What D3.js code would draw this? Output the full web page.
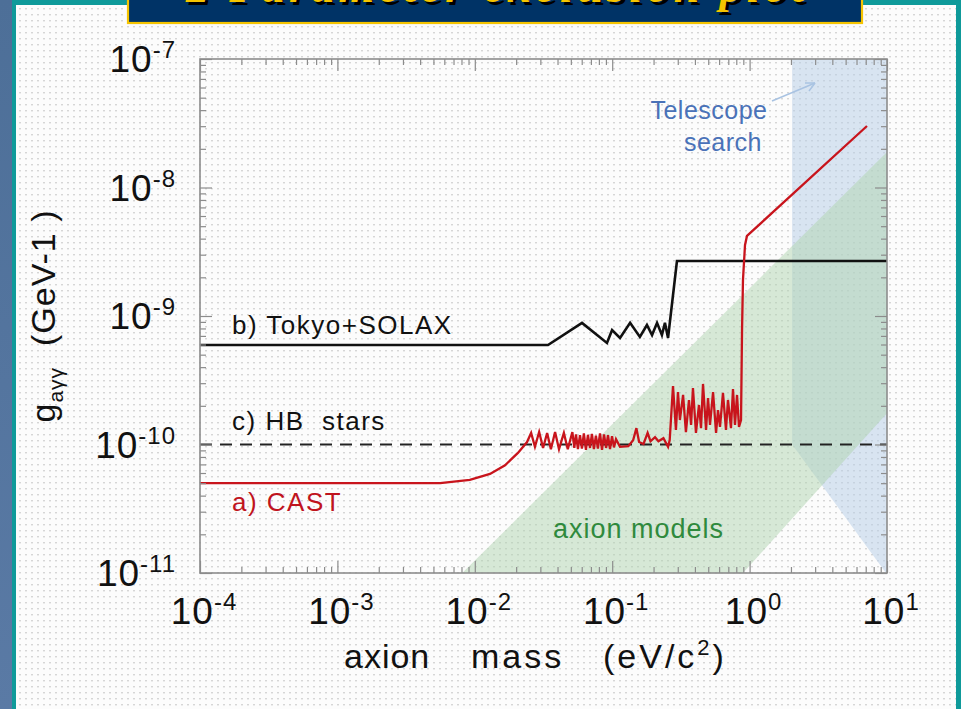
<!DOCTYPE html>
<html><head><meta charset="utf-8">
<script src="https://cdn.jsdelivr.net/npm/d3@7"></script>
<style>body{margin:0;overflow:hidden;background:#fff} svg{display:block} text{font-family:"Liberation Sans",Arial,sans-serif}</style>
</head><body><svg id="c" width="961" height="709"></svg>
<script>
// ---------------- data ----------------
const xTickExps = [-4, -3, -2, -1, 0, 1];
const yTickExps = [-11, -10, -9, -8, -7];

const tokyoMass = [1e-4, 0.0341, 0.0603, 0.0916, 0.0998, 0.114, 0.135, 0.159, 0.179, 0.195, 0.212, 0.230, 0.242, 0.255, 0.296, 10];
const tokyoG    = [5.94e-10, 5.94e-10, 8.84e-10, 6.17e-10, 7.78e-10, 6.75e-10, 8.84e-10, 6.87e-10, 8.51e-10, 7.11e-10, 8.84e-10, 7.11e-10, 8.84e-10, 6.75e-10, 2.68e-9, 2.68e-9];

const hbMass = [1e-4, 10];
const hbG    = [1e-10, 1e-10];

const castMass = [1e-4, 0.0056, 0.0092, 0.0129, 0.0166, 0.0206, 0.024,
  0.0257, 0.0274, 0.0294, 0.0314, 0.0336, 0.0358, 0.0384, 0.041, 0.0445, 0.0475, 0.0513, 0.053,
  0.0545, 0.0563, 0.0583, 0.0602, 0.0622, 0.0644, 0.0666, 0.0689, 0.0712, 0.0736, 0.0761, 0.0787,
  0.0815, 0.0843, 0.0872, 0.0902, 0.0932, 0.0964, 0.0997, 0.103, 0.1066,
  0.114, 0.131, 0.142, 0.150, 0.157, 0.169, 0.181, 0.190, 0.205, 0.217, 0.236, 0.255, 0.262,
  0.277, 0.291, 0.301, 0.311, 0.328, 0.344, 0.362, 0.375, 0.387, 0.407, 0.428, 0.443, 0.458, 0.482,
  0.498, 0.515, 0.542, 0.570, 0.589, 0.609, 0.640, 0.673, 0.696, 0.732, 0.757, 0.783, 0.810, 0.837,
  0.866, 0.881, 0.895, 0.926, 0.957, 7.15];
const castG = [5.0e-11, 5.0e-11, 5.3e-11, 5.9e-11, 6.9e-11, 8.6e-11, 1.045e-10,
  1.23e-10, 9.6e-11, 1.25e-10, 9.4e-11, 1.23e-10, 9.2e-11, 1.25e-10, 9.2e-11, 1.23e-10, 9.2e-11, 1.25e-10, 9.4e-11,
  1.2e-10, 9.2e-11, 1.18e-10, 9.3e-11, 1.22e-10, 9.1e-11, 1.19e-10, 9.4e-11, 1.21e-10, 9.2e-11, 1.17e-10, 9.3e-11,
  1.22e-10, 9.1e-11, 1.2e-10, 9.4e-11, 1.18e-10, 9.2e-11, 1.16e-10, 9.5e-11, 1.1e-10,
  9.6e-11, 9.7e-11, 1.08e-10, 1.34e-10, 1.045e-10, 1.01e-10, 1.23e-10, 1.06e-10, 1.14e-10, 1.06e-10, 1.12e-10, 9.6e-11, 1.08e-10,
  2.85e-10, 1.30e-10, 2.56e-10, 1.55e-10, 2.43e-10, 1.25e-10, 2.22e-10, 1.42e-10, 2.75e-10, 1.23e-10, 2.03e-10, 1.34e-10, 2.96e-10, 1.30e-10,
  2.30e-10, 1.42e-10, 2.56e-10, 1.23e-10, 1.85e-10, 1.37e-10, 2.52e-10, 1.30e-10, 2.22e-10, 1.34e-10, 2.70e-10, 1.42e-10, 2.43e-10, 1.37e-10,
  1.55e-10, 7.78e-10, 1.91e-9, 3.57e-9, 4.2e-9, 3.01e-8];

const axionMass = [0.0081, 10, 10, 0.895];
const axionG    = [1e-11, 1.89e-8, 1.75e-10, 1e-11];

const telMass = [2.04, 10, 10, 9.83, 2.04];
const telG    = [1e-7, 1e-7, 1e-11, 1e-11, 1.0e-10];

const titleText = "2 Parameter exclusion plot";

// ---------------- drawing ----------------
const svg = d3.select("#c");
const defs = svg.append("defs");
const pat = defs.append("pattern").attr("id","dots").attr("width",6).attr("height",6).attr("patternUnits","userSpaceOnUse");
pat.append("rect").attr("width",6).attr("height",6).attr("fill","#fcfcfc");
pat.append("rect").attr("x",1).attr("y",2).attr("width",2).attr("height",1.4).attr("fill","#d6d6d6");
const grad = defs.append("linearGradient").attr("id","lb").attr("x1",0).attr("x2",0).attr("y1",0).attr("y2",1);
grad.append("stop").attr("offset",0).attr("stop-color","#4d6f98");
grad.append("stop").attr("offset",1).attr("stop-color","#5a7aa5");

svg.append("rect").attr("width",961).attr("height",709).attr("fill","url(#dots)");
svg.append("rect").attr("x",0).attr("y",0).attr("width",12).attr("height",709).attr("fill","url(#lb)");
svg.append("rect").attr("x",12).attr("y",0).attr("width",4).attr("height",709).attr("fill","#0f9a9a");
svg.append("rect").attr("x",956).attr("y",0).attr("width",5).attr("height",709).attr("fill","#0f9a9a");
svg.append("rect").attr("x",12).attr("y",0).attr("width",949).attr("height",5).attr("fill","#0f9a9a");

// title box (cut off at top of the slide)
defs.append("clipPath").attr("id","tclip").append("rect").attr("x",128).attr("y",0).attr("width",734).attr("height",23);
svg.append("rect").attr("x",128).attr("y",-4).attr("width",734).attr("height",27)
  .attr("fill","#003366").attr("stroke","#f5c400").attr("stroke-width",2.2);
const tg = svg.append("g").attr("clip-path","url(#tclip)");
tg.append("text").attr("x",189).attr("y",5).attr("textLength",618).attr("lengthAdjust","spacing")
  .style("font-family","Liberation Serif, serif").style("font-style","italic").style("font-weight","bold")
  .style("font-size","46px").attr("fill","#000").text(titleText);
tg.append("text").attr("x",186).attr("y",2).attr("textLength",618).attr("lengthAdjust","spacing")
  .style("font-family","Liberation Serif, serif").style("font-style","italic").style("font-weight","bold")
  .style("font-size","46px").attr("fill","#f5c400").text(titleText);

const X0=200, X1=887, Y0=573, Y1=59;
const x = d3.scaleLog().domain([1e-4,10]).range([X0,X1]);
const y = d3.scaleLog().domain([1e-11,1e-7]).range([Y0,Y1]);

defs.append("clipPath").attr("id","pclip").append("rect").attr("x",X0).attr("y",Y1).attr("width",X1-X0).attr("height",Y0-Y1);
const plot = svg.append("g").attr("clip-path","url(#pclip)");
const line = d3.line().x(d=>x(d[0])).y(d=>y(d[1]));
const poly = d3.line().x(d=>x(d[0])).y(d=>y(d[1])).curve(d3.curveLinearClosed);

plot.append("path").attr("d",poly(d3.zip(telMass,telG))).attr("fill","#b9cfe8").attr("fill-opacity",0.55);
plot.append("path").attr("d",poly(d3.zip(axionMass,axionG))).attr("fill","#b0d4b0").attr("fill-opacity",0.5);

plot.append("path").attr("d",line(d3.zip(hbMass,hbG))).attr("fill","none").attr("stroke","#222").attr("stroke-width",2).attr("stroke-dasharray","12,8");
plot.append("path").attr("d",line(d3.zip(tokyoMass,tokyoG))).attr("fill","none").attr("stroke","#111").attr("stroke-width",2.6).attr("stroke-linejoin","miter");
plot.append("path").attr("d",line(d3.zip(castMass,castG))).attr("fill","none").attr("stroke","#c8141c").attr("stroke-width",2.3);

// axes ticks
const minorX=[], minorY=[];
for (let e=-4;e<1;e++) for (let k=2;k<10;k++) minorX.push(k*Math.pow(10,e));
for (let e=-11;e<-7;e++) for (let k=2;k<10;k++) minorY.push(k*Math.pow(10,e));
const majX = xTickExps.map(e=>Math.pow(10,e)), majY = yTickExps.map(e=>Math.pow(10,e));
function styleAx(g){ g.selectAll("path.domain").remove(); g.selectAll("line").attr("stroke","#8c8c8c").attr("stroke-width",1.2); g.selectAll("text").remove(); }
const ax = svg.append("g");
ax.append("g").attr("transform",`translate(0,${Y0})`).call(d3.axisBottom(x).tickValues(minorX).tickSize(-6)).call(styleAx);
ax.append("g").attr("transform",`translate(0,${Y0})`).call(d3.axisBottom(x).tickValues(majX).tickSize(-12)).call(styleAx);
ax.append("g").attr("transform",`translate(0,${Y1})`).call(d3.axisTop(x).tickValues(minorX).tickSize(-6)).call(styleAx);
ax.append("g").attr("transform",`translate(0,${Y1})`).call(d3.axisTop(x).tickValues(majX).tickSize(-12)).call(styleAx);
ax.append("g").attr("transform",`translate(${X0},0)`).call(d3.axisLeft(y).tickValues(minorY).tickSize(-6)).call(styleAx);
ax.append("g").attr("transform",`translate(${X0},0)`).call(d3.axisLeft(y).tickValues(majY).tickSize(-12)).call(styleAx);
ax.append("g").attr("transform",`translate(${X1},0)`).call(d3.axisRight(y).tickValues(minorY).tickSize(-6)).call(styleAx);
ax.append("g").attr("transform",`translate(${X1},0)`).call(d3.axisRight(y).tickValues(majY).tickSize(-12)).call(styleAx);
svg.append("rect").attr("x",X0).attr("y",Y1).attr("width",X1-X0).attr("height",Y0-Y1).attr("fill","none").attr("stroke","#8c8c8c").attr("stroke-width",1.6);

// tick labels
xTickExps.forEach(e=>{
  const t = svg.append("text").attr("x",x(Math.pow(10,e))+4).attr("y",624).attr("text-anchor","middle").attr("font-size",37).attr("letter-spacing",1).attr("fill","#111");
  t.append("tspan").text("10");
  t.append("tspan").attr("dy",-14).attr("font-size",24).text(String(e));
});
yTickExps.forEach(e=>{
  const t = svg.append("text").attr("x",176).attr("y",y(Math.pow(10,e))+13).attr("text-anchor","end").attr("font-size",37).attr("letter-spacing",1).attr("fill","#111");
  t.append("tspan").text("10");
  t.append("tspan").attr("dy",-14).attr("font-size",24).text(String(e));
});

// axis titles
svg.append("text").attr("x",344).attr("y",668).attr("font-size",34).attr("letter-spacing",1).attr("fill","#111").text("axion");
svg.append("text").attr("x",471).attr("y",668).attr("font-size",34).attr("letter-spacing",3).attr("fill","#111").text("mass");
const xt = svg.append("text").attr("x",603).attr("y",668).attr("font-size",34).attr("letter-spacing",3).attr("fill","#111");
xt.append("tspan").text("(eV/c");
xt.append("tspan").attr("dy",-13).attr("font-size",22).text("2");
xt.append("tspan").attr("dy",13).text(")");
const yt = svg.append("text").attr("transform","translate(55,316) rotate(-90)").attr("text-anchor","middle").attr("font-size",34).attr("letter-spacing",1).attr("fill","#111").style("white-space","pre");
yt.append("tspan").text("g");
yt.append("tspan").attr("dy",8).attr("font-size",21).text("aγγ");
yt.append("tspan").attr("dy",-8).text("  (GeV-1 )");

// annotations
svg.append("text").attr("x",232).attr("y",334).attr("font-size",26).attr("letter-spacing",1.5).attr("fill","#111").text("b) Tokyo+SOLAX");
svg.append("text").attr("x",232).attr("y",430).attr("font-size",26).attr("letter-spacing",1.5).attr("fill","#111").style("white-space","pre").text("c) HB  stars");
svg.append("text").attr("x",232).attr("y",511).attr("font-size",26).attr("letter-spacing",1.5).attr("fill","#c0141e").text("a) CAST");
svg.append("text").attr("x",553).attr("y",538).attr("font-size",27).attr("letter-spacing",1).attr("fill","#2f8a3d").text("axion models");
svg.append("text").attr("x",709).attr("y",119).attr("text-anchor","middle").attr("font-size",25).attr("letter-spacing",0.5).attr("fill","#4a72b8").text("Telescope");
svg.append("text").attr("x",723).attr("y",151).attr("text-anchor","middle").attr("font-size",25).attr("letter-spacing",0.5).attr("fill","#4a72b8").text("search");
svg.append("line").attr("x1",772).attr("y1",101).attr("x2",815).attr("y2",83).attr("stroke","#a9c3e2").attr("stroke-width",1.5);
svg.append("path").attr("d","M815,83 L805,83 M815,83 L809,91").attr("stroke","#a9c3e2").attr("stroke-width",1.5).attr("fill","none");
</script></body></html>
